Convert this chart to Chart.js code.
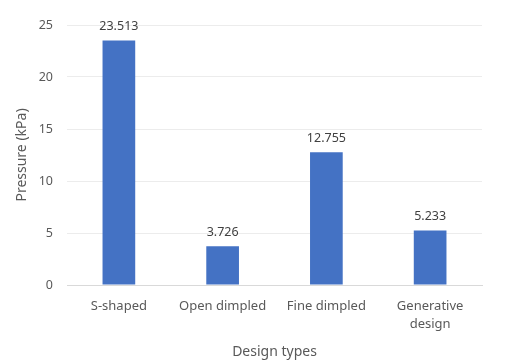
<!DOCTYPE html>
<html>
<head>
<meta charset="utf-8">
<script src="https://cdn.jsdelivr.net/npm/chart.js@4"></script>
<style>
  html, body { margin: 0; padding: 0; background: #fff; }
  #wrap { width: 524px; height: 363px; }
</style>
</head>
<body>
<div id="wrap"><canvas id="pressureChart"></canvas></div>
<script>
const designTypes = ['S-shaped', 'Open dimpled', 'Fine dimpled', ['Generative', 'design']];
const pressureValues = [23.513, 3.726, 12.755, 5.233];
const valueLabels = ['23.513', '3.726', '12.755', '5.233'];

const FONT = '"Noto Sans", sans-serif';

// draws the value above each bar
const barValuePlugin = {
  id: 'barValues',
  afterDatasetsDraw(chart) {
    const ctx = chart.ctx;
    const meta = chart.getDatasetMeta(0);
    ctx.save();
    ctx.font = '12.5px ' + FONT;
    ctx.fillStyle = '#404040';
    ctx.textAlign = 'center';
    ctx.textBaseline = 'bottom';
    meta.data.forEach((bar, i) => {
      ctx.fillText(valueLabels[i], bar.x, bar.y - 8);
    });
    ctx.restore();
  }
};

new Chart(document.getElementById('pressureChart').getContext('2d'), {
  type: 'bar',
  data: {
    labels: designTypes,
    datasets: [{
      label: 'Pressure',
      data: pressureValues,
      backgroundColor: '#4472C4',
      categoryPercentage: 1,
      barPercentage: 0.315
    }]
  },
  options: {
    responsive: true,
    maintainAspectRatio: false,
    animation: false,
    layout: { padding: { left: 0, top: 25, right: 42, bottom: 0 } },
    plugins: {
      legend: { display: false },
      tooltip: { enabled: false }
    },
    scales: {
      x: {
        grid: { display: false, drawTicks: false },
        border: { display: true, color: '#d9d9d9', width: 1 },
        ticks: { color: '#595959', font: { family: FONT, size: 13, lineHeight: 1.38 }, padding: 12, maxRotation: 0 },
        title: {
          display: true,
          text: 'Design types',
          color: '#595959',
          font: { family: FONT, size: 14 },
          padding: { top: 0, bottom: 3 }
        },
        afterFit(scale) { scale.height = 78; }
      },
      y: {
        min: 0,
        max: 25,
        ticks: { stepSize: 5, color: '#595959', font: { family: FONT, size: 12.5 }, padding: 14 },
        grid: {
          drawTicks: false,
          color: ctx => ctx.tick && ctx.tick.value === 0 ? '#d9d9d9' : '#ececec'
        },
        border: { display: false },
        title: {
          display: true,
          text: 'Pressure (kPa)',
          color: '#595959',
          font: { family: FONT, size: 14 },
          padding: { top: 14, bottom: 0 }
        },
        afterFit(scale) { scale.width = 67; }
      }
    }
  },
  plugins: [barValuePlugin]
});
</script>
</body>
</html>
